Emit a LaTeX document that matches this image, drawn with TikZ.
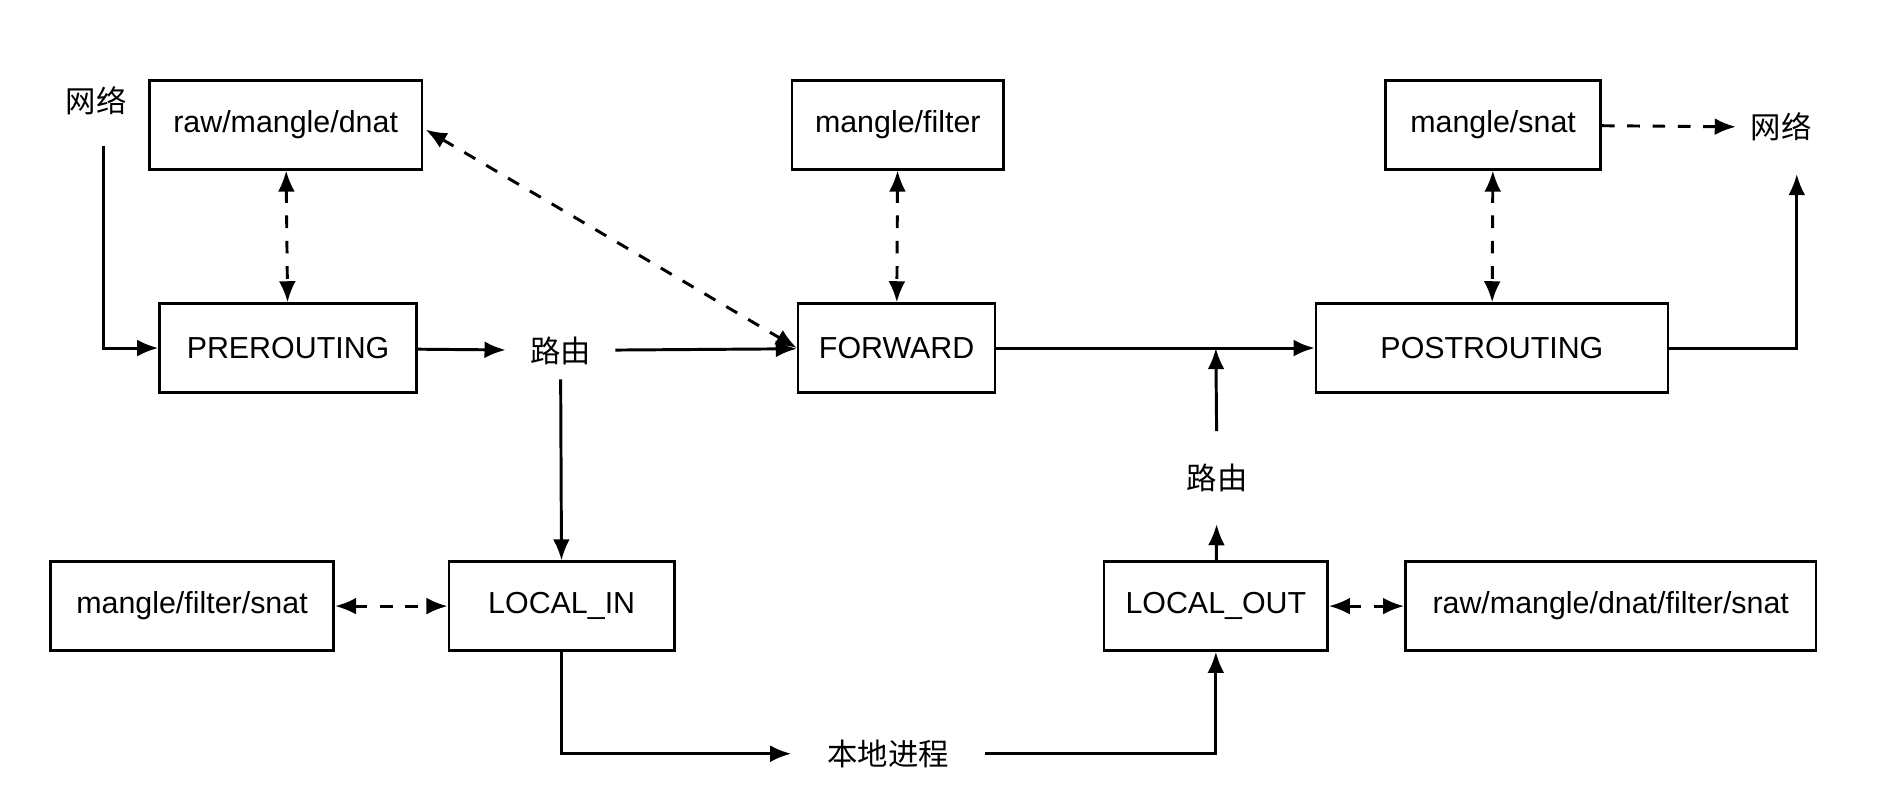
\documentclass[tikz,border=0pt]{standalone}
\usepackage{fontspec}
\setmainfont{Liberation Sans}
\newfontfamily\cjk{Noto Sans CJK SC}
\usetikzlibrary{arrows.meta}

\begin{document}
\begin{tikzpicture}[x=0.01cm, y=-0.01cm, font=\fontsize{7.2}{9}\selectfont,
    box/.style={draw, line width=0.6pt, minimum height=0.74cm, inner sep=0pt},
    word/.style={font=\fontsize{7.2}{9}\selectfont\cjk},
    flow/.style={-{Latex[length=5pt,width=4pt]}, line width=0.7pt},
    link/.style={{Latex[length=5pt,width=4pt]}-{Latex[length=5pt,width=4pt]}, dashed, line width=0.7pt}]
\useasboundingbox (0,0) rectangle (1568,665);

\begin{scope}[every node/.style={box}]
    \node (rmd) at (238,104) [minimum width=2.27cm] {raw/mangle/dnat};
    \node (pre) at (240,290) [minimum width=2.14cm] {PREROUTING};
    \node (mf) at (748,104) [minimum width=1.76cm] {mangle/filter};
    \node (fwd) at (747,290) [minimum width=1.64cm] {FORWARD};
    \node (ms) at (1244,104) [minimum width=1.79cm] {mangle/snat};
    \node (post) at (1243,290) [minimum width=2.93cm] {POSTROUTING};
    \node (mfs) at (160,505) [minimum width=2.36cm] {mangle/filter/snat};
    \node (lin) at (468,505) [minimum width=1.88cm] {LOCAL\_IN};
    \node (lout) at (1013,505) [minimum width=1.86cm] {LOCAL\_OUT};
    \node (all) at (1342,505) [minimum width=3.42cm] {raw/mangle/dnat/filter/snat};
\end{scope}

\node (netin) at (80,84) [word] {网络};
\node (netout) at (1484,106) [word] {网络};
\node (route) at (467,292) [word, minimum width=0.9cm] {路由};
\node (routeb) at (1014,398) [word, minimum height=0.76cm] {路由};
\node (proc) at (740,628) [word, minimum width=1.6cm] {本地进程};
\coordinate (cross) at (1013,290);

% main path
\draw [flow] (86,122) |- (pre.west);
\draw [flow] (pre) -- (route);
\draw [flow] (route) -- (fwd);
\draw [flow] (route) -- (lin);
\draw [flow] (fwd) -- (post);
\draw [flow] (lin.south) |- (proc);
\draw [flow] (proc) -| (lout.south);
\draw [flow] (lout) -- (routeb);
\draw [flow] (routeb) -- (cross);
\draw [flow] (post.east) -| (1497,145);

% table lookups
\draw [link] (rmd) -- (pre);
\draw [link] (mf) -- (fwd);
\draw [link] (ms) -- (post);
\draw [link] (rmd.east) ++(2,4) -- (fwd.west);
\draw [link] (mfs) -- (lin);
\draw [link] (lout) -- (all);
\draw [flow, dashed] (ms) -- (netout);
\end{tikzpicture}
\end{document}
